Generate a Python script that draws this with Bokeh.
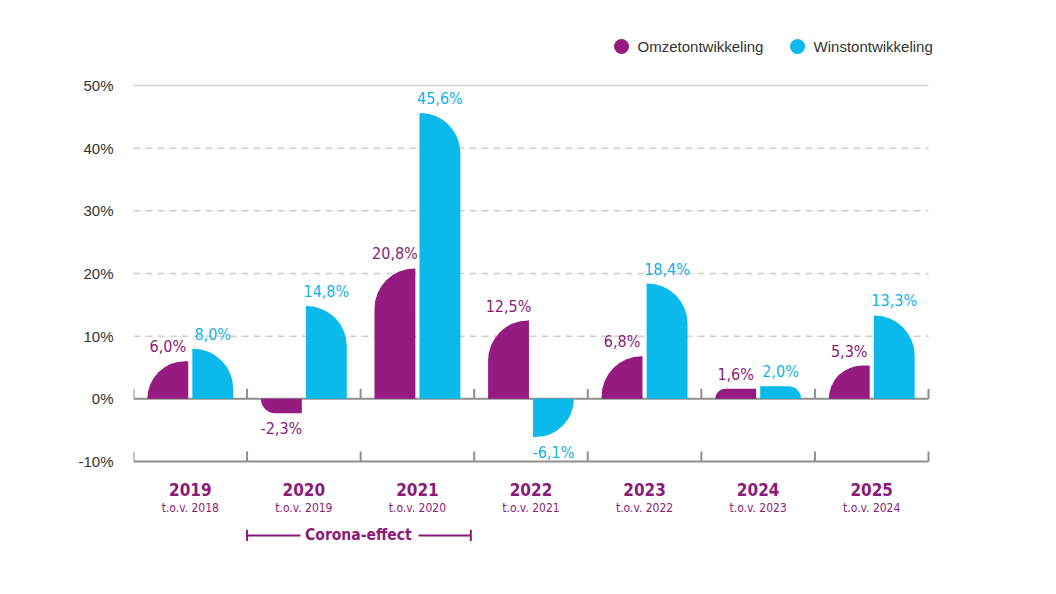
from bokeh.plotting import figure
from bokeh.models import Range1d, FixedTicker, PrintfTickFormatter, ColumnDataSource
from bokeh.core.properties import value
from bokeh.embed import file_html
from bokeh.resources import INLINE

# --- data -------------------------------------------------------------
years = ["2019", "2020", "2021", "2022", "2023", "2024", "2025"]
basis = ["t.o.v. 2018", "t.o.v. 2019", "t.o.v. 2020", "t.o.v. 2021",
         "t.o.v. 2022", "t.o.v. 2023", "t.o.v. 2024"]
omzet = [6.0, -2.3, 20.8, 12.5, 6.8, 1.6, 5.3]      # Omzetontwikkeling (%)
winst = [8.0, 14.8, 45.6, -6.1, 18.4, 2.0, 13.3]    # Winstontwikkeling (%)
y_ticks = [-10, 0, 10, 20, 30, 40, 50]
series_names = ["Omzetontwikkeling", "Winstontwikkeling"]
corona_span = ("2020", "2021")

# --- style ------------------------------------------------------------
PURPLE = "#951b81"
PURPLE_TXT = "#8c1a79"
BLUE = "#0bb9eb"
BLUE_TXT = "#13b2e6"
GRID = "#cfcfcf"
AXIS = "#8e8e8e"
TXT = "#333333"
NARROW = value("'DejaVu Sans Condensed', Roboto, sans-serif")
SANS = "Liberation Sans"

BAR_W = 0.36
OFF = 0.198
RADIUS = 40

p = figure(width=1056, height=594, output_backend="svg", toolbar_location=None,
           x_range=Range1d(0, 8.127), y_range=Range1d(-31.22, 63.56),
           min_border_left=133, min_border_right=0, min_border_top=0,
           min_border_bottom=0, outline_line_color=None, x_axis_location=None)
p.xgrid.visible = False
p.ygrid.visible = False

yax = p.yaxis[0]
yax.ticker = FixedTicker(ticks=y_ticks)
yax.formatter = PrintfTickFormatter(format="%d%%")
yax.axis_line_color = None
yax.major_tick_line_color = None
yax.minor_tick_line_color = None
yax.major_tick_out = 0
yax.major_label_standoff = 20
yax.major_label_text_font = SANS
yax.major_label_text_font_size = "15px"
yax.major_label_text_color = TXT

n = len(years)
centers = [i + 0.5 for i in range(n)]

# gridlines: top line solid, inner lines dashed
p.segment(x0=[0], x1=[n], y0=[max(y_ticks)], y1=[max(y_ticks)],
          line_color=GRID, line_width=1.5)
inner = [t for t in y_ticks if 0 < t < max(y_ticks)]
p.segment(x0=[0] * len(inner), x1=[n] * len(inner), y0=inner, y1=inner,
          line_color=GRID, line_width=1.5, line_dash="7 5")

# baseline axes at 0% and at the bottom tick, with category separators
for base in (0, min(y_ticks)):
    p.segment(x0=[0], x1=[n], y0=[base], y1=[base], line_color=AXIS, line_width=2)
    p.segment(x0=list(range(n + 1)), x1=list(range(n + 1)),
              y0=[base] * (n + 1), y1=[base + 1.6] * (n + 1),
              line_color=AXIS, line_width=2)


def bars(vals, shift, color, pos_corner, neg_corner):
    pos = [(c + shift, v) for c, v in zip(centers, vals) if v >= 0]
    neg = [(c + shift, v) for c, v in zip(centers, vals) if v < 0]
    for items, corner in ((pos, pos_corner), (neg, neg_corner)):
        if not items:
            continue
        radii = {"top_left": 0, "top_right": 0, "bottom_right": 0, "bottom_left": 0}
        radii[corner] = RADIUS
        xs = [a for a, _ in items]
        vs = [b for _, b in items]
        if corner.startswith("top"):
            p.vbar(x=xs, width=BAR_W, bottom=0, top=vs, fill_color=color,
                   line_color=None, border_radius=radii)
        else:
            p.vbar(x=xs, width=BAR_W, top=0, bottom=vs, fill_color=color,
                   line_color=None, border_radius=radii)


bars(omzet, -OFF, PURPLE, "top_left", "bottom_left")
bars(winst, OFF, BLUE, "top_right", "bottom_right")


def fmt(v):
    return f"{v:.1f}".replace(".", ",") + "%"


def value_labels(vals, shift, color):
    src_pos = ColumnDataSource(dict(
        x=[c + shift for c, v in zip(centers, vals) if v >= 0],
        y=[v for v in vals if v >= 0],
        t=[fmt(v) for v in vals if v >= 0]))
    src_neg = ColumnDataSource(dict(
        x=[c + shift for c, v in zip(centers, vals) if v < 0],
        y=[v for v in vals if v < 0],
        t=[fmt(v) for v in vals if v < 0]))
    p.text(x="x", y="y", text="t", source=src_pos, text_align="center",
           text_baseline="bottom", y_offset=-5, text_color=color,
           text_font=NARROW, text_font_size="16px")
    p.text(x="x", y="y", text="t", source=src_neg, text_align="center",
           text_baseline="top", y_offset=6, text_color=color,
           text_font=NARROW, text_font_size="16px")


value_labels(omzet, -OFF, PURPLE_TXT)
value_labels(winst, OFF, BLUE_TXT)

# category labels below the lower baseline
base = min(y_ticks)
p.text(x=centers, y=[base] * n, text=years, text_align="center",
       text_baseline="middle", y_offset=28, text_color=PURPLE_TXT,
       text_font=NARROW, text_font_size="17px", text_font_style="bold")
p.text(x=centers, y=[base] * n, text=basis, text_align="center",
       text_baseline="middle", y_offset=46, text_color=PURPLE_TXT,
       text_font=NARROW, text_font_size="12px")

# Corona-effect bracket
x_a = years.index(corona_span[0])
x_b = years.index(corona_span[1]) + 0.97
x_mid = (x_a + x_b) / 2 - 0.005
y_br = -21.8
p.segment(x0=[x_a, x_mid + 0.53], x1=[x_mid - 0.51, x_b], y0=[y_br, y_br],
          y1=[y_br, y_br], line_color=PURPLE_TXT, line_width=2)
p.segment(x0=[x_a, x_b], x1=[x_a, x_b], y0=[y_br - 0.9, y_br - 0.9],
          y1=[y_br + 0.9, y_br + 0.9], line_color=PURPLE_TXT, line_width=2)
p.text(x=[x_mid], y=[y_br], text=["Corona-effect"], text_align="center",
       text_baseline="middle", text_color=PURPLE_TXT, text_font=NARROW,
       text_font_size="15.5px", text_font_style="bold")

# legend
leg_x = [4.297, 5.847]
leg_y = 56.22
p.scatter(x=leg_x, y=[leg_y] * 2, size=15, marker="circle",
          fill_color=[PURPLE, BLUE], line_color=None)
p.text(x=[lx + 0.141 for lx in leg_x], y=[leg_y] * 2, text=series_names,
       text_align="left", text_baseline="middle", text_color=TXT,
       text_font=value(SANS), text_font_size="15px")

open("out.html", "w").write(file_html(p, INLINE))
